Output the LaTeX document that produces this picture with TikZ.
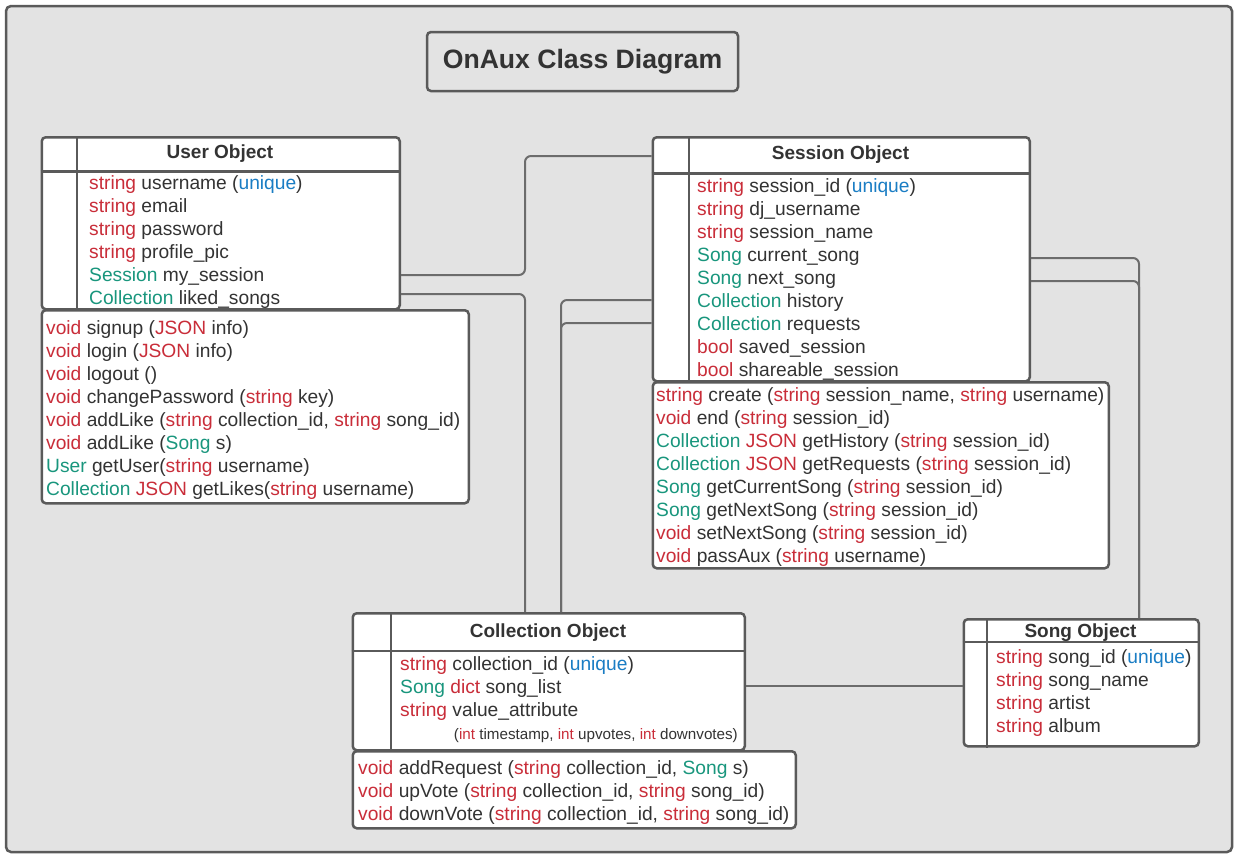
\documentclass[tikz,border=0pt]{standalone}
\usepackage{fontspec}
\setmainfont{Liberation Sans}
\usepackage{xcolor}
\usepackage{tikz}
\usetikzlibrary{positioning, calc}
\definecolor{panelgray}{RGB}{227, 227, 227}
\definecolor{boxgray}{RGB}{90, 90, 90}
\definecolor{linkgray}{RGB}{108, 108, 108}
\definecolor{textdark}{RGB}{51, 51, 51}
\definecolor{typered}{RGB}{201, 45, 57}
\definecolor{classgreen}{RGB}{25, 150, 125}
\definecolor{uniqblue}{RGB}{26, 125, 196}
\newcommand{\kwd}[1]{\textcolor{typered}{#1}}
\newcommand{\clsn}[1]{\textcolor{classgreen}{#1}}
\newcommand{\uniq}[1]{\textcolor{uniqblue}{#1}}

\begin{document}
\begin{tikzpicture}[x=1pt, y=-1pt,
    classbox/.style={draw=boxgray, fill=white, line width=2.5pt, rounded corners=4pt, anchor=north west, inner sep=0pt},
    divider/.style={draw=boxgray, line width=2.5pt},
    link/.style={draw=linkgray, line width=2pt, rounded corners=6pt},
    attr/.style={anchor=base west, inner sep=0pt, text=textdark, font=\fontsize{19.2}{23}\selectfont},
    head/.style={anchor=base, inner sep=0pt, text=textdark, font=\bfseries\fontsize{19}{23}\selectfont}]
    \useasboundingbox (0,0) rectangle (1242,863);

    % Background panel
    \draw[fill=panelgray, draw=boxgray, line width=2.5pt, rounded corners=5pt] (6,6) rectangle (1232,852);

    % Title
    \node[draw=boxgray, fill=panelgray, line width=2.5pt, rounded corners=4pt, minimum width=311, minimum height=59,
          inner sep=0pt, text=textdark, font=\bfseries\fontsize{26.6}{30}\selectfont] (title) at (582.5,61.5) {OnAux Class Diagram};

    % Class boxes
    \node[classbox, minimum width=358, minimum height=172] (user) at (40.5,136) {};
    \node[classbox, minimum width=427, minimum height=193] (userops) at (40.5,309) {};
    \node[classbox, minimum width=377, minimum height=244] (session) at (651.5,136) {};
    \node[classbox, minimum width=456, minimum height=186] (sessionops) at (651.5,381) {};
    \node[classbox, minimum width=392, minimum height=137] (collection) at (351.5,612) {};
    \node[classbox, minimum width=443, minimum height=77] (collectionops) at (351.5,750) {};
    \node[classbox, minimum width=235, minimum height=127] (song) at (962.5,618) {};

    % Connectors
    \draw[link] (user.east |- 0,275) -| (525,156) -- (session.west |- 0,156);
    \draw[link] (user.east |- 0,294) -| (collection.north -| 525,0);
    \draw[link] (session.west |- 0,300) -| (collection.north -| 561,0);
    \draw[link] (session.west |- 0,323) -| (collection.north -| 561,0);
    \draw[link] (session.east |- 0,258) -| (song.north -| 1139,0);
    \draw[link] (session.east |- 0,281) -| (song.north -| 1139,0);
    \draw[link] (collection.east |- 0,686) -- (song.west |- 0,686);

    % Header rows and left columns
    \draw[divider] (user.west |- 0,171.5) -- (user.east |- 0,171.5);
    \draw[divider] (user.north -| 77,0) -- (user.south -| 77,0);
    \draw[divider] (session.west |- 0,173.5) -- (session.east |- 0,173.5);
    \draw[divider] (session.north -| 689,0) -- (session.south -| 689,0);
    \draw[divider] (collection.west |- 0,651) -- (collection.east |- 0,651);
    \draw[divider] (collection.north -| 391,0) -- (collection.south -| 391,0);
    \draw[divider] (song.west |- 0,642) -- (song.east |- 0,642);
    \draw[divider] (song.north -| 987,0) -- (song.south -| 987,0);

    % User Object
    \node[head] (user-head) at (220,158) {User Object};
    \foreach \txt [count=\i] in {
        {\kwd{string} username (\uniq{unique})},
        {\kwd{string} email},
        {\kwd{string} password},
        {\kwd{string} profile\_pic},
        {\clsn{Session} my\_session},
        {\clsn{Collection} liked\_songs}}
        \node[attr] (user-att-\i) at (89,{189+23*(\i-1)}) {\txt};
    \foreach \txt [count=\i] in {
        {\kwd{void} signup (\kwd{JSON} info)},
        {\kwd{void} login (\kwd{JSON} info)},
        {\kwd{void} logout ()},
        {\kwd{void} changePassword (\kwd{string} key)},
        {\kwd{void} addLike (\kwd{string} collection\_id, \kwd{string} song\_id)},
        {\kwd{void} addLike (\clsn{Song} s)},
        {\clsn{User} getUser(\kwd{string} username)},
        {\clsn{Collection} \kwd{JSON} getLikes(\kwd{string} username)}}
        \node[attr] (user-op-\i) at (46,{334+23*(\i-1)}) {\txt};

    % Session Object
    \node[head] (session-head) at (840.5,159) {Session Object};
    \foreach \txt [count=\i] in {
        {\kwd{string} session\_id (\uniq{unique})},
        {\kwd{string} dj\_username},
        {\kwd{string} session\_name},
        {\clsn{Song} current\_song},
        {\clsn{Song} next\_song},
        {\clsn{Collection} history},
        {\clsn{Collection} requests},
        {\kwd{bool} saved\_session},
        {\kwd{bool} shareable\_session}}
        \node[attr] (session-att-\i) at (697,{192+23*(\i-1)}) {\txt};
    \foreach \txt [count=\i] in {
        {\kwd{string} create (\kwd{string} session\_name, \kwd{string} username)},
        {\kwd{void} end (\kwd{string} session\_id)},
        {\clsn{Collection} \kwd{JSON} getHistory (\kwd{string} session\_id)},
        {\clsn{Collection} \kwd{JSON} getRequests (\kwd{string} session\_id)},
        {\clsn{Song} getCurrentSong (\kwd{string} session\_id)},
        {\clsn{Song} getNextSong (\kwd{string} session\_id)},
        {\kwd{void} setNextSong (\kwd{string} session\_id)},
        {\kwd{void} passAux (\kwd{string} username)}}
        \node[attr] (session-op-\i) at (656,{401.5+23*(\i-1)}) {\txt};

    % Collection Object
    \node[head] (collection-head) at (548,637) {Collection Object};
    \foreach \txt [count=\i] in {
        {\kwd{string} collection\_id (\uniq{unique})},
        {\clsn{Song} \kwd{dict} song\_list},
        {\kwd{string} value\_attribute}}
        \node[attr] (collection-att-\i) at (400,{670+23*(\i-1)}) {\txt};
    \node[attr, anchor=base east, font=\fontsize{15.2}{18}\selectfont] (collection-note) at (738,739)
        {(\kwd{int} timestamp, \kwd{int} upvotes, \kwd{int} downvotes)};
    \foreach \txt [count=\i] in {
        {\kwd{void} addRequest (\kwd{string} collection\_id, \clsn{Song} s)},
        {\kwd{void} upVote (\kwd{string} collection\_id, \kwd{string} song\_id)},
        {\kwd{void} downVote (\kwd{string} collection\_id, \kwd{string} song\_id)}}
        \node[attr] (collection-op-\i) at (358,{774+23*(\i-1)}) {\txt};

    % Song Object
    \node[head] (song-head) at (1080.5,637) {Song Object};
    \foreach \txt [count=\i] in {
        {\kwd{string} song\_id (\uniq{unique})},
        {\kwd{string} song\_name},
        {\kwd{string} artist},
        {\kwd{string} album}}
        \node[attr] (song-att-\i) at (996,{663+23*(\i-1)}) {\txt};
\end{tikzpicture}
\end{document}
